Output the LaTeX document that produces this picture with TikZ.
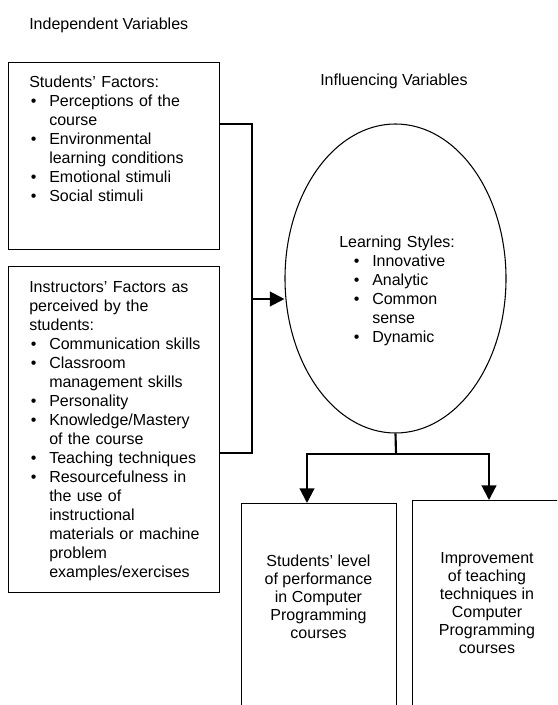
\documentclass[tikz,border=0pt]{standalone}
\usepackage{fontspec}
\setmainfont{Liberation Sans}
\usetikzlibrary{shapes.geometric,arrows.meta,positioning}
\setlength{\parindent}{0pt}
\setlength{\parskip}{0pt}
% bullet item with hanging indent, optional extra left indent
\newcommand{\bitem}[2][0pt]{\par\hangindent=\dimexpr#1+15pt\relax\hangafter=1\hspace*{#1}\makebox[15pt][l]{\hspace{1.2pt}\textbullet}#2\par}

\begin{document}
\begin{tikzpicture}[
    x=0.75pt, y=-0.75pt,
    factorbox/.style={rectangle, draw, line width=0.8pt, anchor=north west, inner sep=0pt},
    stylenode/.style={ellipse, draw, line width=0.8pt, inner sep=0pt, minimum width=165.75pt, minimum height=231.75pt},
    listtext/.style={anchor=north west, inner sep=0pt, text width=140pt, font=\fontsize{12}{14.25}\selectfont},
    outtext/.style={anchor=north, inner sep=0pt, align=center, font=\fontsize{12}{13.5}\selectfont},
    vartitle/.style={anchor=base west, inner sep=0pt, font=\fontsize{12}{14.25}\selectfont},
    link/.style={line width=1.6pt},
    arrowlink/.style={link, -{Triangle[length=11pt,width=11pt]}}
]
\clip (0,0) rectangle (557,705);

% Titles
\node[vartitle] (indep) at (29,30) {Independent Variables};
\node[vartitle] (infl) at (320,86) {Influencing Variables};

% Independent variables
\node[factorbox, minimum width=158.25pt, minimum height=140.25pt] (students) at (8,62) {};
\node[listtext] (studentstext) at (29,75.5) {Students’ Factors:
  \bitem{Perceptions of the\newline course}
  \bitem{Environmental\newline learning conditions}
  \bitem{Emotional stimuli}
  \bitem{Social stimuli}};

\node[factorbox, minimum width=158.25pt, minimum height=244.5pt] (instructors) at (8,266) {};
\node[listtext] (instructorstext) at (29,281.5) {Instructors’ Factors as\newline perceived by the\newline students:
  \bitem{Communication skills}
  \bitem{Classroom\newline management skills}
  \bitem{Personality}
  \bitem{Knowledge/Mastery\newline of the course}
  \bitem{Teaching techniques}
  \bitem{Resourcefulness in\newline the use of\newline instructional\newline materials or machine\newline problem\newline examples/exercises}};

% Influencing variables
\node[stylenode] (styles) at (395.5,278.5) {};
\node[listtext, text width=120pt] (stylestext) at (339,235.5) {Learning Styles:
  \bitem[9.75pt]{Innovative}
  \bitem[9.75pt]{Analytic}
  \bitem[9.75pt]{Common\newline sense}
  \bitem[9.75pt]{Dynamic}};

% Dependent variables
\node[factorbox, minimum width=116.25pt, minimum height=180pt] (perf) at (241,503) {};
\node[outtext] (perftext) at (318.5,555) {Students’ level\\of performance\\in Computer\\Programming\\courses};

\node[factorbox, minimum width=112.5pt, minimum height=180pt] (impr) at (412,500) {};
\node[outtext] (imprtext) at (487,552.5) {Improvement\\of teaching\\techniques in\\Computer\\Programming\\courses};

% Connectors
\coordinate (bend1) at (252,124);
\coordinate (bend2) at (252,453);
\coordinate (joint) at (252,299);
\draw[link] (students.east |- bend1) -- (bend1) -- (bend2) -- (instructors.east |- bend2);
\draw[arrowlink] (joint) -- (joint -| styles.west);

\coordinate (fork) at (396,454);
\coordinate (split1) at (307,454);
\coordinate (split2) at (489,454);
\draw[link] (styles.south) -- (fork);
\draw[arrowlink] (fork) -- (split1) -- (split1 |- perf.north);
\draw[arrowlink] (fork) -- (split2) -- (split2 |- impr.north);

\end{tikzpicture}
\end{document}
